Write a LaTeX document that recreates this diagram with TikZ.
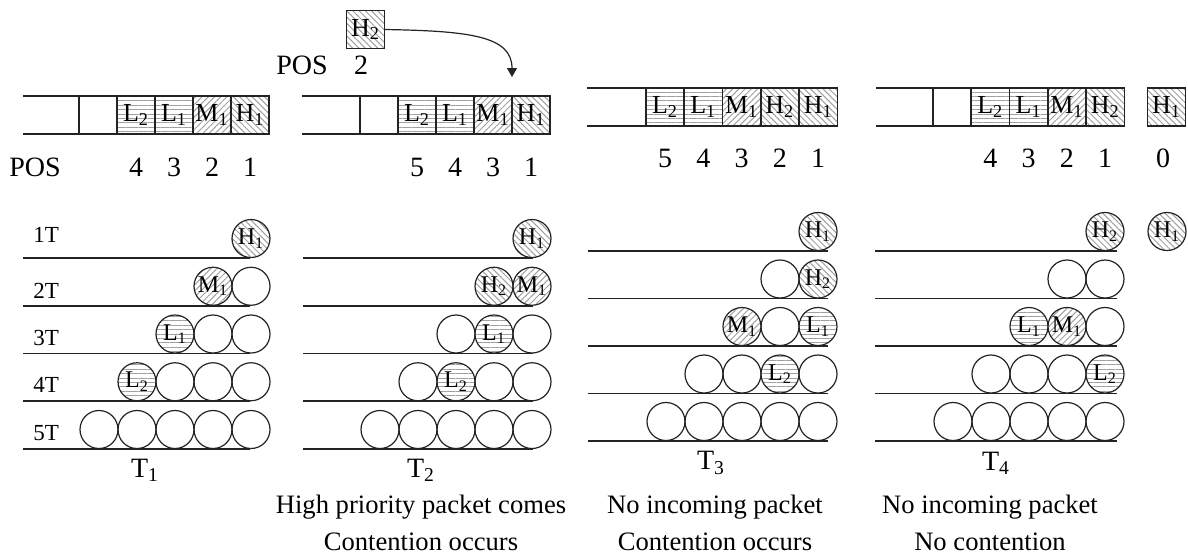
\documentclass[tikz,border=0pt]{standalone}
\usepackage{fontspec}
\setmainfont{Liberation Serif}
\usetikzlibrary{arrows.meta,patterns.meta}
\definecolor{edgegray}{RGB}{35,35,35}
\definecolor{hatchgray}{RGB}{160,160,160}

\tikzset{
  slot/.style={rectangle,draw=edgegray,line width=0.6pt,minimum size=19pt,
    inner sep=0pt,font=\fontsize{13}{13}\selectfont},
  pkt/.style={circle,draw=edgegray,line width=0.6pt,minimum size=19pt,
    inner sep=0pt,font=\fontsize{12}{12}\selectfont},
  lowpri/.style={pattern={Lines[angle=0,distance=2.2pt,line width=0.5pt]},
    pattern color=hatchgray},
  midpri/.style={pattern={Lines[angle=45,distance=2.2pt,line width=0.5pt]},
    pattern color=hatchgray},
  highpri/.style={pattern={Lines[angle=-45,distance=2.2pt,line width=0.5pt]},
    pattern color=hatchgray},
  free/.style={},
  track/.style={draw=edgegray,line width=0.6pt},
  posnum/.style={font=\fontsize{14}{14}\selectfont,inner sep=0pt},
  rowlab/.style={font=\fontsize{11.5}{11.5}\selectfont,anchor=base west,inner sep=0pt},
  steplab/.style={font=\fontsize{14}{14}\selectfont,inner sep=0pt},
  notelab/.style={font=\fontsize{13.3}{18.5}\selectfont,align=center,inner sep=0pt},
}

\begin{document}
\begin{tikzpicture}[x=0.5pt,y=-0.5pt,>={Triangle[length=4.5pt,width=5pt]}]
  \useasboundingbox (0,0) rectangle (1188,554);

  % --- T1 ---
  % buffer
  \draw[track] (23,96) -- (269,96);
  \draw[track] (23,134) -- (269,134);
  \foreach \c/\sty/\lab in {1/free/{},2/lowpri/L\textsubscript{2},
      3/lowpri/L\textsubscript{1},4/midpri/M\textsubscript{1},
      5/highpri/H\textsubscript{1}}
    \node[slot,\sty] (ba\c) at ({98+38*(\c-1)},115) {\lab};
  \node[posnum] (posa) at (35,167) {POS};
  \foreach \c/\n in {2/4,3/3,4/2,5/1}
    \node[posnum] (na\c) at ({98+38*(\c-1)},167) {\n};

  % rows
  \foreach \k/\ly/\ty in {1/258/242,2/306/298,3/353.5/345,4/401/392,5/449/440} {
    \draw[track] (23,\ly) -- (250,\ly);
    \node[rowlab] (rl\k) at (33,\ty) {\k T};
  }
  \foreach \k/\c/\sty/\lab in {
      1/5/highpri/H\textsubscript{1},
      2/4/midpri/M\textsubscript{1}, 2/5/free/{},
      3/3/lowpri/L\textsubscript{1}, 3/4/free/{}, 3/5/free/{},
      4/2/lowpri/L\textsubscript{2}, 4/3/free/{}, 4/4/free/{}, 4/5/free/{},
      5/1/free/{}, 5/2/free/{}, 5/3/free/{}, 5/4/free/{}, 5/5/free/{}}
    \node[pkt,\sty] (qa\k\c) at ({99+38*(\c-1)},{258+47.75*(\k-1)-19.5}) {\lab};
  \node[steplab] (ta) at (145,470) {T\textsubscript{1}};

  % --- T2 ---
  % incoming packet
  \node[slot,highpri] (newpkt) at (365.5,29.5) {H\textsubscript{2}};
  \node[posnum] (posin) at (302,65) {POS};
  \node[posnum] (nin) at (361,65) {2};
  \coordinate (drop) at (512,77);
  \draw[edgegray,line width=0.6pt,->] (newpkt.east)
    .. controls (470,31) and (512,36) .. (drop);

  % buffer
  \draw[track] (302,96) -- (550,96);
  \draw[track] (302,134) -- (550,134);
  \foreach \c/\sty/\lab in {1/free/{},2/lowpri/L\textsubscript{2},
      3/lowpri/L\textsubscript{1},4/midpri/M\textsubscript{1},
      5/highpri/H\textsubscript{1}}
    \node[slot,\sty] (bb\c) at ({379+38*(\c-1)},115) {\lab};
  \foreach \c/\n in {2/5,3/4,4/3,5/1}
    \node[posnum] (nb\c) at ({379+38*(\c-1)},167) {\n};

  % rows
  \foreach \k/\ly in {1/258,2/306,3/353.5,4/401,5/449}
    \draw[track] (303,\ly) -- (533,\ly);
  \foreach \k/\c/\sty/\lab in {
      1/5/highpri/H\textsubscript{1},
      2/4/highpri/H\textsubscript{2}, 2/5/midpri/M\textsubscript{1},
      3/3/free/{}, 3/4/lowpri/L\textsubscript{1}, 3/5/free/{},
      4/2/free/{}, 4/3/lowpri/L\textsubscript{2}, 4/4/free/{}, 4/5/free/{},
      5/1/free/{}, 5/2/free/{}, 5/3/free/{}, 5/4/free/{}, 5/5/free/{}}
    \node[pkt,\sty] (qb\k\c) at ({380+38*(\c-1)},{258+47.75*(\k-1)-19.5}) {\lab};
  \node[steplab] (tb) at (421,470) {T\textsubscript{2}};
  \node[notelab] (notb) at (421,523)
    {High priority packet comes\\Contention occurs};

  % --- T3 ---
  % buffer
  \draw[track] (587,88) -- (838,88);
  \draw[track] (587,126) -- (838,126);
  \foreach \c/\sty/\lab in {1/lowpri/L\textsubscript{2},
      2/lowpri/L\textsubscript{1},3/midpri/M\textsubscript{1},
      4/highpri/H\textsubscript{2},5/highpri/H\textsubscript{1}}
    \node[slot,\sty] (bc\c) at ({665+38.3*(\c-1)},107) {\lab};
  \foreach \c/\n in {1/5,2/4,3/3,4/2,5/1}
    \node[posnum] (nc\c) at ({665+38.3*(\c-1)},158) {\n};

  % rows
  \foreach \k/\ly in {1/251,2/298.5,3/346,4/393.5,5/441}
    \draw[track] (588,\ly) -- (828,\ly);
  \foreach \k/\c/\sty/\lab in {
      1/5/highpri/H\textsubscript{1},
      2/4/free/{}, 2/5/highpri/H\textsubscript{2},
      3/3/midpri/M\textsubscript{1}, 3/4/free/{}, 3/5/lowpri/L\textsubscript{1},
      4/2/free/{}, 4/3/free/{}, 4/4/lowpri/L\textsubscript{2}, 4/5/free/{},
      5/1/free/{}, 5/2/free/{}, 5/3/free/{}, 5/4/free/{}, 5/5/free/{}}
    \node[pkt,\sty] (qc\k\c) at ({666+38*(\c-1)},{251+47.5*(\k-1)-19.5}) {\lab};
  \node[steplab] (tc) at (711,463) {T\textsubscript{3}};
  \node[notelab] (notc) at (715,523)
    {No incoming packet\\Contention occurs};

  % --- T4 ---
  % buffer
  \draw[track] (876,88) -- (1125,88);
  \draw[track] (876,126) -- (1125,126);
  \foreach \c/\sty/\lab in {1/free/{},2/lowpri/L\textsubscript{2},
      3/lowpri/L\textsubscript{1},4/midpri/M\textsubscript{1},
      5/highpri/H\textsubscript{2}}
    \node[slot,\sty] (bd\c) at ({952+38.3*(\c-1)},107) {\lab};
  \node[slot,highpri] (outpkt) at (1166.5,107) {H\textsubscript{1}};
  \foreach \c/\n in {2/4,3/3,4/2,5/1}
    \node[posnum] (nd\c) at ({952+38.3*(\c-1)},158) {\n};
  \node[posnum] (nout) at (1163,158) {0};

  % rows
  \foreach \k/\ly in {1/251,2/298.5,3/346,4/393.5,5/441}
    \draw[track] (875,\ly) -- (1117,\ly);
  \foreach \k/\c/\sty/\lab in {
      1/5/highpri/H\textsubscript{2},
      2/4/free/{}, 2/5/free/{},
      3/3/lowpri/L\textsubscript{1}, 3/4/midpri/M\textsubscript{1}, 3/5/free/{},
      4/2/free/{}, 4/3/free/{}, 4/4/free/{}, 4/5/lowpri/L\textsubscript{2},
      5/1/free/{}, 5/2/free/{}, 5/3/free/{}, 5/4/free/{}, 5/5/free/{}}
    \node[pkt,\sty] (qd\k\c) at ({953+38*(\c-1)},{251+47.5*(\k-1)-19.5}) {\lab};
  \node[pkt,highpri] (sent) at (1167,231.5) {H\textsubscript{1}};
  \node[steplab] (td) at (996,463) {T\textsubscript{4}};
  \node[notelab] (notd) at (990,523)
    {No incoming packet\\No contention};

\end{tikzpicture}
\end{document}
